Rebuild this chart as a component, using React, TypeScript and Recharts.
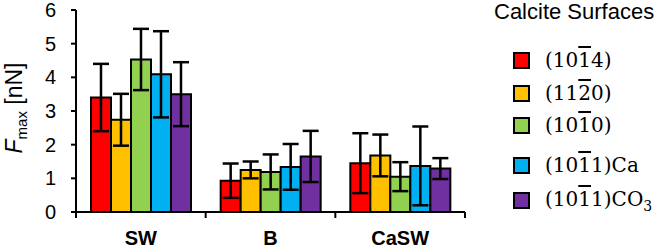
import React from "react";
import { BarChart, Bar, XAxis, YAxis, ErrorBar, Legend } from "recharts";

// categories on the x axis
const media = ["SW", "B", "CaSW"];

// surface keys, labels ("{1}" = overlined digit, "_3" = subscript) and colours
const surfaceKeys = ["s1014", "s1120", "s1010", "s1011Ca", "s1011CO3"];
const surfaceLabels = ["(10{1}4)", "(11{2}0)", "(10{1}0)", "(10{1}1)Ca", "(10{1}1)CO_3"];
const surfaceColors = ["#ff0000", "#ffc000", "#92d050", "#00b0f0", "#7030a0"];

// F_max mean values [nN], one array per surface (SW, B, CaSW)
const s1014 = [3.4, 0.93, 1.45];
const s1120 = [2.74, 1.25, 1.68];
const s1010 = [4.53, 1.19, 1.05];
const s1011Ca = [4.09, 1.34, 1.37];
const s1011CO3 = [3.5, 1.65, 1.29];

// error bars (+/-)
const e1014 = [1.0, 0.51, 0.89];
const e1120 = [0.77, 0.25, 0.62];
const e1010 = [0.91, 0.52, 0.43];
const e1011Ca = [1.28, 0.68, 1.17];
const e1011CO3 = [0.95, 0.76, 0.31];

const yTicks = [0, 1, 2, 3, 4, 5, 6];

const values = [s1014, s1120, s1010, s1011Ca, s1011CO3];
const errors = [e1014, e1120, e1010, e1011Ca, e1011CO3];

const data = media.map((m, i) => {
  const row: Record<string, string | number> = { medium: m };
  surfaceKeys.forEach((k, j) => {
    row[k] = values[j][i];
    row[k + "_err"] = errors[j][i];
  });
  return row;
});

const W = 663;
const H = 248;
const Y_AXIS_W = 76;
const RIGHT = 198;
const bandWidth = (W - Y_AXIS_W - RIGHT) / media.length;

// vertical position of each legend row (uneven, like the source)
const legendRowTops = [45, 78, 110, 150, 185];

const sansFont = "'Liberation Sans', Arial, sans-serif";
const serifFont = "'DejaVu Serif', serif";

// turn "(10{1}4)" / "CO_3" into spans
const renderLabel = (label: string) => {
  const parts: React.ReactNode[] = [];
  let i = 0;
  while (i < label.length) {
    const c = label[i];
    if (c === "{") {
      const end = label.indexOf("}", i);
      parts.push(
        <span key={i} style={{ textDecoration: "overline" }}>
          {label.slice(i + 1, end)}
        </span>
      );
      i = end + 1;
    } else if (c === "_") {
      parts.push(
        <sub key={i} style={{ fontSize: "0.7em" }}>
          {label[i + 1]}
        </sub>
      );
      i += 2;
    } else {
      parts.push(c);
      i += 1;
    }
  }
  return parts;
};

const XTick = (props: any) => {
  const { x, y, payload, index } = props;
  const right = x + bandWidth / 2;
  const left = x - bandWidth / 2;
  return (
    <g>
      {index === 0 && <line x1={left} y1={y} x2={left} y2={y + 6} stroke="#000" strokeWidth={2} />}
      <line x1={right} y1={y} x2={right} y2={y + 6} stroke="#000" strokeWidth={2} />
      <text
        x={x}
        y={y + 33}
        textAnchor="middle"
        fontFamily={sansFont}
        fontWeight="bold"
        fontSize={20}
        fill="#000"
      >
        {payload.value}
      </text>
    </g>
  );
};

const YLabel = () => (
  <text
    transform="translate(22, 108) rotate(-90)"
    textAnchor="middle"
    fontFamily={sansFont}
    fontSize={23}
    fill="#000"
  >
    <tspan fontStyle="italic">F</tspan>
    <tspan fontSize={15} dy={5}>max</tspan>
    <tspan dy={-5}> [nN]</tspan>
  </text>
);

const LegendBox = () => (
  <div style={{ fontFamily: serifFont, color: "#000" }}>
    <div
      style={{
        fontFamily: sansFont,
        fontSize: 22,
        position: "absolute",
        left: -1,
        top: -1,
        whiteSpace: "nowrap",
      }}
    >
      Calcite Surfaces
    </div>
    {surfaceLabels.map((label, i) => (
      <div
        key={label}
        style={{
          position: "absolute",
          left: 18,
          top: legendRowTops[i],
          display: "flex",
          alignItems: "center",
          height: 30,
          whiteSpace: "nowrap",
        }}
      >
        <div
          style={{
            width: 13,
            height: 13,
            border: "2px solid #000",
            background: surfaceColors[i],
            marginRight: 15,
          }}
        />
        <span style={{ fontSize: 20 }}>{renderLabel(label)}</span>
      </div>
    ))}
  </div>
);

export default function App() {
  return (
    <div style={{ width: W, height: H, background: "#fff" }}>
      <style>{"body{margin:0}"}</style>
      <BarChart
        width={W}
        height={H}
        data={data}
        margin={{ top: 10, right: RIGHT, bottom: 0, left: 0 }}
        barGap={0}
        barCategoryGap={15}
      >
        <XAxis
          dataKey="medium"
          height={36}
          tickLine={false}
          tickSize={0}
          tickMargin={0}
          axisLine={{ stroke: "#000", strokeWidth: 2 }}
          tick={<XTick />}
          interval={0}
        />
        <YAxis
          width={Y_AXIS_W}
          domain={[0, 6]}
          ticks={yTicks}
          interval={0}
          tickSize={5}
          tickMargin={15}
          axisLine={{ stroke: "#000", strokeWidth: 2 }}
          tickLine={{ stroke: "#000", strokeWidth: 2 }}
          tick={{ fill: "#000", fontSize: 20, fontFamily: sansFont }}
          label={<YLabel />}
        />
        <Legend
          layout="vertical"
          align="center"
          verticalAlign="middle"
          wrapperStyle={{ left: 495, top: 0, width: 168, height: 248 }}
          content={<LegendBox />}
        />
        {surfaceKeys.map((k, i) => (
          <Bar
            key={k}
            dataKey={k}
            name={surfaceLabels[i]}
            fill={surfaceColors[i]}
            stroke="#000"
            strokeWidth={2}
            isAnimationActive={false}
          >
            <ErrorBar dataKey={k + "_err"} width={8} stroke="#000" strokeWidth={2.5} />
          </Bar>
        ))}
      </BarChart>
    </div>
  );
}
